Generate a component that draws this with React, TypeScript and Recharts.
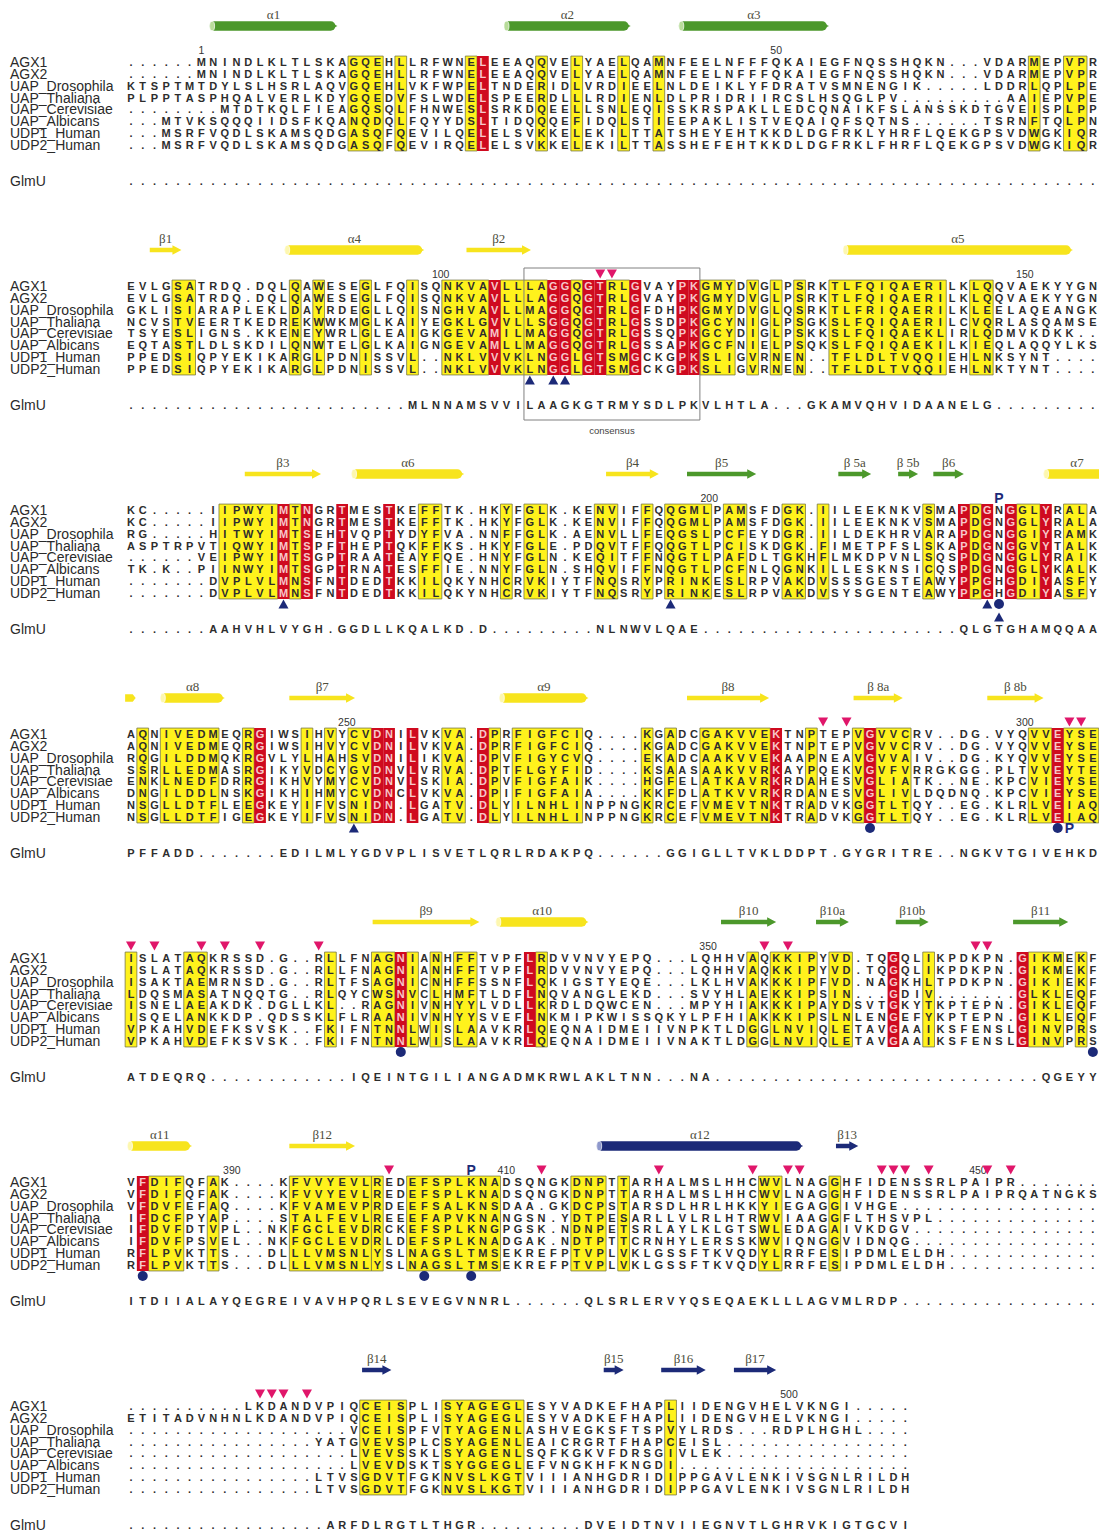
import React from 'react';
import { ScatterChart, Scatter, XAxis, YAxis, ReferenceArea } from 'recharts';

// layout of the alignment grid (px)
const COL_W = 11.73;
const COL0_X = 131;
const ROW_H = 11.86;
const ROW0_Y = 62;
const BLOCK_H = 224;
const NCOLS = 83;
const GLMU_ROW = 10;
const PAGE_W = 1099;
const PAGE_H = 1535;

const SANS = '"Liberation Sans", Arial, Helvetica, sans-serif';
const SERIF = '"Liberation Serif", "Times New Roman", serif';

const gap = (n: number) => '.'.repeat(n);

const names = [
  'AGX1',
  'AGX2',
  'UAP_Drosophila',
  'UAP_Thaliana',
  'UAP_Cerevisiae',
  'UAP_Albicans',
  'UDP1_Human',
  'UDP2_Human',
];

type SS = { from: number; to: number; kind: 'helix' | 'strand' | 'end'; tone: 'g' | 'y' | 'b'; label: string };
type MarkKind = 'down' | 'up' | 'dot' | 'upLow' | 'Ptop' | 'Pbot';
type Mark = { c: number; kind: MarkKind };
type Num = { c: number; text: string };

// ---------- block 1 ----------
const seq1 = [
  '......MNINDLKLTLSKAGQEHLLRFWNELEEAQQVELYAELQAMNFEELNFFFQKAIEGFNQSSHQKN...VDARMEPVPR',
  '......MNINDLKLTLSKAGQEHLLRFWNELEEAQQVELYAELQAMNFEELNFFFQKAIEGFNQSSHQKN...VDARMEPVPR',
  'KTSPTMTDYLSLHSRLAQVGQEHLVKFWPELTNDERIDLVRDIEELNLDEIKLYFDRATVSMNENGIK.....LDDRLQPLPE',
  'PLPPTASPHQALVERLKDYGQEDVFSLWDELSPEERDLLLRDIENLDLPRIDRIIRCSLHSQGLPV.........AAIEPVPE',
  '........MTDTKQLFIEAGQSQLFHNWESLSRKDQEELLSNLEQISSKRSPAKLLEDCQNAIKFSLANSSKDTGVEISPLPP',
  '...MTVKSQQQIIDSFKQANQDQLFQYYDSLTIDQQQEFIDQLSTIEEPAKLISTVEQAIQFSQTNS......TSRNFTQLPN',
  '...MSRFVQDLSKAMSQDGASQFQEVILQELELSVKKELEKILTTATSHEYEHTKKDLDGFRKLYHRFLQEKGPSVDWGKIQR',
  '...MSRFVQDLSKAMSQDGASQFQEVIRQELELSVKKELEKILTTASSHEFEHTKKDLDGFRKLFHRFLQEKGPSVDWGKIQR',
];
const glmu1 = gap(83);
const yellow1: [number, number][] = [[19, 21], [23, 23], [29, 29], [35, 35], [38, 38], [42, 42], [45, 45], [77, 77], [80, 81]];
const red1 = [30];
const ss1: SS[] = [
  { from: 6.7, to: 17.6, kind: 'helix', tone: 'g', label: 'α1' },
  { from: 31.8, to: 42.6, kind: 'helix', tone: 'g', label: 'α2' },
  { from: 46.7, to: 59.5, kind: 'helix', tone: 'g', label: 'α3' },
];
const nums1: Num[] = [{ c: 6, text: '1' }, { c: 55, text: '50' }];
const marks1: Mark[] = [];

// ---------- block 2 ----------
const seq2 = [
  'EVLGSATRDQ.DQLQAWESEGLFQISQNKVAVLLLAGGQGTRLGVAYPKGMYDVGLPSRKTLFQIQAERILKLQQVAEKYYGN',
  'EVLGSATRDQ.DQLQAWESEGLFQISQNKVAVLLLAGGQGTRLGVAYPKGMYDVGLPSRKTLFQIQAERILKLQQVAEKYYGN',
  'GKLISIARAPLEKLDAYRDEGLLQISNGHVAVLLMAGGQGTRLGFDHPKGMYDVGLQSRKTLFRIQAERILKLEELAQEANGK',
  'NCVSTVEERTKEDREKWWKMGLKAIYEGKLGVVLLSGGQGTRLGSSDPKGCYNIGLPSGKSLFQIQAERILCVQRLASQAMSE',
  'TSYESLIGNS.KKENEYWRLGLEAIGKGEVAMILMAGGQGTRLGSSQPKGCYDIGLPSKKSLFQIQAEKLIRLQDMVKDKK..',
  'EQTASTLDLSKDILQNWTELGLKAIGNGEVAMLLMAGGQGTRLGSSAPKGCFNIELPSQKSLFQIQAEKILKIEQLAQQYLKS',
  'PPEDSIQPYEKIKARGLPDNISSVL..NKLVVVKLNGGLGTSMGCKGPKSLIGVRNEN..TFLDLTVQQIEHLNKSYNT....',
  'PPEDSIQPYEKIKARGLPDNISSVL..NKLVVVKLNGGLGTSMGCKGPKSLIGVRNEN..TFLDLTVQQIEHLNKTYNT....',
];
const glmu2 = gap(24) + 'MLNNAMSVVILAAGKGTRMYSDLPKVLHTLA...GKAMVQHVIDAANELG' + gap(9);
const yellow2: [number, number][] = [
  [4, 5], [14, 14], [16, 16], [20, 20], [24, 24], [27, 30], [32, 35], [38, 38], [41, 42],
  [49, 51], [53, 53], [55, 55], [57, 57], [60, 69], [72, 73],
];
const red2 = [31, 36, 37, 39, 40, 43, 47, 48];
const ss2: SS[] = [
  { from: 1.6, to: 4.3, kind: 'strand', tone: 'y', label: 'β1' },
  { from: 13.1, to: 25, kind: 'helix', tone: 'y', label: 'α4' },
  { from: 28.6, to: 34.1, kind: 'strand', tone: 'y', label: 'β2' },
  { from: 60.7, to: 80.3, kind: 'helix', tone: 'y', label: 'α5' },
];
const nums2: Num[] = [{ c: 26.4, text: '100' }, { c: 76.2, text: '150' }];
const marks2: Mark[] = [
  { c: 40, kind: 'down' }, { c: 41, kind: 'down' },
  { c: 34, kind: 'up' }, { c: 36, kind: 'up' }, { c: 37, kind: 'up' },
];
const consensus2 = { from: 34, to: 48, label: 'consensus' };

// ---------- block 3 ----------
const seq3 = [
  'KC.....IIPWYIMTNGRTMESTKEFFTK.HKYFGLK.KENVIFFQQGMLPAMSFDGK.IILEEKNKVSMAPDGNGGLYRALA',
  'KC.....IIPWYIMTNGRTMESTKEFFTK.HKYFGLK.KENVIFFQQGMLPAMSFDGK.IILEEKNKVSMAPDGNGGLYRALA',
  'RG.....HITWYIMTSEHTVQPTYDYFVA.NNFFGLK.AENVLLFEQGSLPCFEYDGR.IILDEKHRVARAPDGNGGIYRAMK',
  'ASPTRPVTIQWYIMTSPFTHEPTQKFFKS.HKYFGLE.PDQVTFFQQGTLPCISKDGK.FIMETPFSLSKAPDGNGGVYTALK',
  '......VEIPWYIMTSGPTRAATEAYFQE.HNYFGLN.KEQITFFNQGTLPAFDLTGKHFLMKDPVNLSQSPDGNGGLYRAIK',
  'TK.K..PIINWYIMTSGPTRNATESFFIE.NNYFGLN.SHQVIFFNQGTLPCFNLQGNKILLESKNSICQSPDGNGGLYKALK',
  '.......DVPLVLMNSFNTDEDTKKILQKYNHCRVKIYTFNQSRYPRINKESLRPVAKDVSSSGESTEAWYPPGHGDIYASFY',
  '.......DVPLVLMNSFNTDEDTKKILQKYNHCRVKIYTFNQSRYPRINKESLRPVAKDVSYSGENTEAWYPPGHGDIYASFY',
];
const glmu3 = '.......AAHVHLVYGH.GGDLLKQALKD.D.........NLNWVLQAE' + gap(22) + 'QLGTGHAMQQAA';
const yellow3: [number, number][] = [
  [8, 12], [14, 14], [25, 26], [32, 32], [34, 35], [40, 41], [44, 44], [46, 49], [51, 52],
  [56, 57], [59, 59], [68, 68], [72, 72], [76, 77], [80, 81],
];
const red3 = [13, 15, 18, 22, 71, 73, 75, 78];
const ss3: SS[] = [
  { from: 9.7, to: 16.2, kind: 'strand', tone: 'y', label: 'β3' },
  { from: 18.8, to: 28.4, kind: 'helix', tone: 'y', label: 'α6' },
  { from: 40.5, to: 45, kind: 'strand', tone: 'y', label: 'β4' },
  { from: 47.4, to: 53.3, kind: 'strand', tone: 'g', label: 'β5' },
  { from: 60.3, to: 63.1, kind: 'strand', tone: 'g', label: 'β 5a' },
  { from: 65.4, to: 67.1, kind: 'strand', tone: 'g', label: 'β 5b' },
  { from: 68.4, to: 71, kind: 'strand', tone: 'g', label: 'β6' },
  { from: 77.8, to: 83.5, kind: 'helix', tone: 'y', label: 'α7' },
];
const nums3: Num[] = [{ c: 49.3, text: '200' }];
const marks3: Mark[] = [
  { c: 13, kind: 'up' }, { c: 46, kind: 'up' }, { c: 73, kind: 'up' },
  { c: 74, kind: 'dot' }, { c: 74, kind: 'upLow' }, { c: 74, kind: 'Ptop' },
];

// ---------- block 4 ----------
const seq4 = [
  'AQNIVEDMEQRGIWSIHVYCVDNILVKVA.DPRFIGFCIQ....KGADCGAKVVEKTNPTEPVGVVCRV..DG.VYQVVEYSE',
  'AQNIVEDMEQRGIWSIHVYCVDNILVKVA.DPRFIGFCIQ....KGADCGAKVVEKTNPTEPVGVVCRV..DG.VYQVVEYSE',
  'RQGILDDMQKRGVLYLHAHSVDNILIKVA.DPVFIGYCVQ....EKADCAAKVVEKAAPNEAVGVVAIV..DG.KYQVVEYSE',
  'SSRLLEDMASRGIKYVDCYGVDNVLVRVA.DPTFLGYFID....KSAASAAKVVRKAYPQEKVGVFVRRGKGG.PLTVVEYTE',
  'ENKLNEDFDRRGIKHVYMYCVDNVLSKIA.DPVFIGFAIK....HGFELATKAVRKRDAHESVGLIATK..NE.KPCVIEYSE',
  'DNGILDDLNSKGIKHIHMYCVDNCLVKVA.DPIFIGFAIA....KKFDLATKVVRKRDANESVGLIVLDQDNQ.KPCVIEYSE',
  'NSGLLDTFLEEGKEYIFVSNIDN.LGATV.DLYILNHLINPPNGKRCEFVMEVTNKTRADVKGGTLTQY..EG.KLRLVEIAQ',
  'NSGLLDTFIGEGKEYIFVSNIDN.LGATV.DLYILNHLINPPNGKRCEFVMEVTNKTRADVKGGTLTQY..EG.KLRLVEIAQ',
];
const glmu4 = 'PFFADD.......EDILMLYGDVPLISVETLQRLRDAKPQ......GGIGLLTVKLDDPT.GYGRITRE..NGKVTGIVEHKD';
const yellow4: [number, number][] = [
  [1, 1], [3, 7], [10, 10], [15, 15], [17, 17], [19, 20], [27, 28], [31, 31], [33, 38],
  [44, 44], [46, 46], [49, 54], [58, 58], [62, 62], [64, 66], [77, 78], [80, 82],
];
const red4 = [11, 21, 22, 24, 30, 55, 63, 79];
const ss4: SS[] = [
  { from: -0.5, to: 0.4, kind: 'end', tone: 'y', label: '' },
  { from: 2.5, to: 8, kind: 'helix', tone: 'y', label: 'α8' },
  { from: 13.5, to: 19.1, kind: 'strand', tone: 'y', label: 'β7' },
  { from: 31.4, to: 39, kind: 'helix', tone: 'y', label: 'α9' },
  { from: 47.4, to: 54.4, kind: 'strand', tone: 'y', label: 'β8' },
  { from: 61.6, to: 65.8, kind: 'strand', tone: 'y', label: 'β 8a' },
  { from: 73, to: 77.8, kind: 'strand', tone: 'y', label: 'β 8b' },
];
const nums4: Num[] = [{ c: 18.4, text: '250' }, { c: 76.2, text: '300' }];
const marks4: Mark[] = [
  { c: 59, kind: 'down' }, { c: 61, kind: 'down' }, { c: 80, kind: 'down' }, { c: 81, kind: 'down' },
  { c: 19, kind: 'up' }, { c: 63, kind: 'dot' }, { c: 79, kind: 'dot' }, { c: 80, kind: 'Pbot' },
];

// ---------- block 5 ----------
const seq5 = [
  'ISLATAQKRSSD.G..RLLFNAGNIANHFFTVPFLRDVVNVYEPQ...LQHHVAQKKIPYVD.TQGQLIKPDKPN.GIKMEKF',
  'ISLATAQKRSSD.G..RLLFNAGNIANHFFTVPFLRDVVNVYEPQ...LQHHVAQKKIPYVD.TQGQLIKPDKPN.GIKMEKF',
  'ISAKTAEMRNSD.G..RLTFSAGNICNHFFSSNFLQKIGSTYEQE...LKLHVAKKKIPFVD.NAGKHLTPDKPN.GIKIEKF',
  'LDQSMASATNQQTG..RLQYCWSNVCLHMFTLDFLNQVANGLEKD...SVYHLAEKKIPSIN...GDIV.......GLKLEQF',
  'ISNELAEAKDK.DGLLKL..RAGNIVNHYYLVDLLKRDLDQWCEN...MPYHIAKKKIPAYDSVTGKYTKPTEPN.GIKLEQF',
  'ISQELANKKDP.QDSSKLFLRAANIVNHYYSVEFLNKMIPKWISSQKYLPFHIAKKKIPSLNLENGEFYKPTEPN.GIKLEQF',
  'VPKAHVDEFKSVSK..FKIFNTNNLWISLAAVKRLQEQNAIDMEIIVNPKTLDGGLNVIQLETAVGAAIKSFENSLGINVPRS',
  'VPKAHVDEFKSVSK..FKIFNTNNLWISLAAVKRLQEQNAIDMEIIVNAKTLDGGLNVIQLETAVGAAIKSFENSLGINVPRS',
];
const glmu5 = 'ATDEQRQ' + gap(12) + 'IQEINTGILIANGADMKRWLAKLTNN...NA' + gap(28) + 'QGEYY';
const yellow5: [number, number][] = [
  [0, 0], [5, 6], [17, 17], [21, 22], [24, 24], [26, 26], [28, 29], [35, 35], [53, 53],
  [55, 58], [60, 61], [68, 68], [77, 79], [81, 81],
];
const red5 = [23, 34, 65, 76];
const ss5: SS[] = [
  { from: 20.6, to: 29.7, kind: 'strand', tone: 'y', label: 'β9' },
  { from: 31.1, to: 39, kind: 'helix', tone: 'y', label: 'α10' },
  { from: 50.3, to: 55, kind: 'strand', tone: 'g', label: 'β10' },
  { from: 58.4, to: 61.2, kind: 'strand', tone: 'g', label: 'β10a' },
  { from: 65.2, to: 68, kind: 'strand', tone: 'g', label: 'β10b' },
  { from: 75.2, to: 79.9, kind: 'strand', tone: 'g', label: 'β11' },
];
const nums5: Num[] = [{ c: 49.2, text: '350' }];
const marks5: Mark[] = [
  { c: 0, kind: 'down' }, { c: 2, kind: 'down' }, { c: 6, kind: 'down' }, { c: 8, kind: 'down' },
  { c: 11, kind: 'down' }, { c: 16, kind: 'down' }, { c: 54, kind: 'down' }, { c: 56, kind: 'down' },
  { c: 72, kind: 'down' }, { c: 73, kind: 'down' },
  { c: 23, kind: 'dot' }, { c: 82, kind: 'dot' },
];

// ---------- block 6 ----------
const seq6 = [
  'VFDIFQFAK....KFVVYEVLREDEFSPLKNADSQNGKDNPTTARHALMSLHHCWVLNAGGHFIDENSSRLPAIPR.......',
  'VFDIFQFAK....KFVVYEVLREDEFSPLKNADSQNGKDNPTTARHALMSLHHCWVLNAGGHFIDENSSRLPAIPRQATNGKS',
  'VFDVFEFAQ....KFVAMEVPRDEEFSALKNSDAA.GKDCPSTARSDLHRLHKKYIEGAGGIVHGE' + gap(17),
  'IFDCFPYAP....STALFEVLREEEFAPVKNANGSN.YDTPESARLLVLRLHTRWVIAAGGFLTHSVPL' + gap(14),
  'IFDVFDTVPL..NKFGCLEVDRCKEFSPLKNGPGSK.NDNPETSRLAYLKLGTSWLEDAGAIVKDGV' + gap(16),
  'IFDVFPSVEL..NKFGCLEVDRLDEFSPLKNADGAK.NDTPTTCRNHYLERSSKWVIQNGGVIDNQG' + gap(16),
  'RFLPVKTTS...DLLLVMSNLYSLNAGSLTMSEKREFPTVPLVKLGSSFTKVQDYLRRFESIPDMLELDH' + gap(13),
  'RFLPVKTTS...DLLLVMSNLYSLNAGSLTMSEKREFPTVPLVKLGSSFTKVQDYLRRFESIPDMLELDH' + gap(13),
];
const glmu6 = 'ITDIIALAYQEGREIVAVHPQRLSEVEGVNNRL......QLSRLERVYQSEQAEKLLLAGVMLRDP' + gap(17);
const yellow6: [number, number][] = [[2, 4], [7, 7], [14, 20], [21, 21], [24, 31], [38, 40], [42, 42], [54, 55], [60, 60]];
const red6 = [1];
const ss6: SS[] = [
  { from: -0.3, to: 5.2, kind: 'helix', tone: 'y', label: 'α11' },
  { from: 13.5, to: 19.1, kind: 'strand', tone: 'y', label: 'β12' },
  { from: 39.7, to: 57.3, kind: 'helix', tone: 'b', label: 'α12' },
  { from: 60.1, to: 62, kind: 'strand', tone: 'b', label: 'β13' },
];
const nums6: Num[] = [{ c: 8.6, text: '390' }, { c: 32, text: '410' }, { c: 72.2, text: '450' }];
const marks6: Mark[] = [
  { c: 22, kind: 'down' }, { c: 35, kind: 'down' }, { c: 45, kind: 'down' }, { c: 53, kind: 'down' },
  { c: 56, kind: 'down' }, { c: 57, kind: 'down' }, { c: 64, kind: 'down' }, { c: 65, kind: 'down' },
  { c: 66, kind: 'down' }, { c: 68, kind: 'down' }, { c: 73, kind: 'down' }, { c: 75, kind: 'down' },
  { c: 1, kind: 'dot' }, { c: 25, kind: 'dot' }, { c: 29, kind: 'dot' }, { c: 29, kind: 'Ptop' },
];

// ---------- block 7 ----------
const seq7 = [
  '..........LKDANDVPIQCEISPLISYAGEGLESYVADKEFHAPLIIDENGVHELVKNGI.....',
  'ETITADVNHNLKDANDVPIQCEISPLISYAGEGLESYVADKEFHAPLIIDENGVHELVKNGI.....',
  gap(19) + 'VCEISPFVTYAGENLASHVEGKSFTSPVYLRDS...RDPLHGHL....',
  gap(16) + 'YATGVEVSPLCSYAGENLEAICRGRTFHAPCEISL' + gap(16),
  gap(19) + 'LVEVSSKLSYAGENLSQFKGKVFDRSGIVLEK' + gap(16),
  gap(19) + 'LVEVDSKTSYGGEGLEFVNGKHFKNGDI' + gap(20),
  gap(16) + 'LTVSGDVTFGKNVSLKGTVIIIANHGDRIDIPPGAVLENKIVSGNLRILDH',
  gap(16) + 'LTVSGDVTFGKNVSLKGTVIIIANHGDRIDIPPGAVLENKIVSGNLRILDH',
];
const glmu7 = gap(17) + 'ARFDLRGTLTHGR' + gap(9) + 'DVEIDTNVIIEGNVTLGHRVKIGTGCVI';
const yellow7: [number, number][] = [[20, 23], [27, 33], [46, 46]];
const red7: number[] = [];
const ss7: SS[] = [
  { from: 19.7, to: 22.2, kind: 'strand', tone: 'b', label: 'β14' },
  { from: 40.3, to: 42, kind: 'strand', tone: 'b', label: 'β15' },
  { from: 45.2, to: 49, kind: 'strand', tone: 'b', label: 'β16' },
  { from: 51.4, to: 55, kind: 'strand', tone: 'b', label: 'β17' },
];
const nums7: Num[] = [{ c: 56.1, text: '500' }];
const marks7: Mark[] = [
  { c: 11, kind: 'down' }, { c: 12, kind: 'down' }, { c: 13, kind: 'down' }, { c: 15, kind: 'down' },
];

type Block = {
  seqs: string[];
  glmu: string;
  yellow: [number, number][];
  red: number[];
  ss: SS[];
  nums: Num[];
  marks: Mark[];
  box?: { from: number; to: number; label: string };
};

const blocks: Block[] = [
  { seqs: seq1, glmu: glmu1, yellow: yellow1, red: red1, ss: ss1, nums: nums1, marks: marks1 },
  { seqs: seq2, glmu: glmu2, yellow: yellow2, red: red2, ss: ss2, nums: nums2, marks: marks2, box: consensus2 },
  { seqs: seq3, glmu: glmu3, yellow: yellow3, red: red3, ss: ss3, nums: nums3, marks: marks3 },
  { seqs: seq4, glmu: glmu4, yellow: yellow4, red: red4, ss: ss4, nums: nums4, marks: marks4 },
  { seqs: seq5, glmu: glmu5, yellow: yellow5, red: red5, ss: ss5, nums: nums5, marks: marks5 },
  { seqs: seq6, glmu: glmu6, yellow: yellow6, red: red6, ss: ss6, nums: nums6, marks: marks6 },
  { seqs: seq7, glmu: glmu7, yellow: yellow7, red: red7, ss: ss7, nums: nums7, marks: marks7 },
];

// colours
const YELLOW = '#fff21c';
const BOX_STROKE = '#76764a';
const RED = '#cf0a1f';
const MAGENTA = '#e0166a';
const NAVY = '#1c2a78';
const TONE = { g: '#4c982b', y: '#f7e41d', b: '#1c2a78' };
const TONE_LIGHT = { g: '#b8dc9a', y: '#fdf7b0', b: '#8e98cc' };

// vertical positions (in row units) of the decorations around each block
const rowAt = (px: number) => (px - ROW0_Y) / ROW_H;
const SS_ROW = rowAt(26);
const SS_LABEL_ROW = rowAt(15);
const NUM_ROW = rowAt(50);
const MARK_ROW: Record<MarkKind, number> = {
  down: rowAt(50),
  Ptop: rowAt(50),
  up: rowAt(156),
  dot: rowAt(156),
  Pbot: rowAt(156),
  upLow: rowAt(169),
};

const NameTick = (p: any) => {
  const v = p.payload?.value;
  const label = v === GLMU_ROW ? 'GlmU' : names[v];
  return (
    <text x={10} y={p.y} dy={5} fontFamily={SANS} fontSize={14} fill="#2a2a2a" textAnchor="start">
      {label}
    </text>
  );
};

const ResidueShape = (p: any) => {
  const { cx, cy, payload } = p;
  if (cx == null || cy == null) return null;
  return (
    <text
      x={cx}
      y={cy + 4}
      textAnchor="middle"
      fontFamily={SANS}
      fontSize={11}
      fontWeight={700}
      fill={payload.onRed ? 'rgba(255,235,235,0.85)' : '#2d2d2d'}
    >
      {payload.ch}
    </text>
  );
};

const SSLabelShape = (p: any) => (
  <text x={p.cx} y={p.cy + 4} textAnchor="middle" fontFamily={SERIF} fontSize={13} fill="#4d4d3c">
    {p.payload.text}
  </text>
);

const NumShape = (p: any) => (
  <text x={p.cx} y={p.cy + 4} textAnchor="middle" fontFamily={SANS} fontSize={10.5} fill="#333">
    {p.payload.text}
  </text>
);

const MarkShape = (p: any) => {
  const { cx, cy, payload } = p;
  switch (payload.kind as MarkKind) {
    case 'down':
      return <polygon points={`${cx - 5},${cy - 4.5} ${cx + 5},${cy - 4.5} ${cx},${cy + 4.5}`} fill={MAGENTA} />;
    case 'up':
    case 'upLow':
      return <polygon points={`${cx},${cy - 4.5} ${cx + 5},${cy + 4.5} ${cx - 5},${cy + 4.5}`} fill={NAVY} />;
    case 'dot':
      return <circle cx={cx} cy={cy} r={5} fill={NAVY} />;
    default:
      return (
        <text x={cx} y={cy + 5} textAnchor="middle" fontFamily={SANS} fontWeight={700} fontSize={14} fill={NAVY}>
          P
        </text>
      );
  }
};

const TextShape = (p: any) => (
  <text x={p.cx} y={p.cy + 3} textAnchor="middle" fontFamily={SANS} fontSize={9.5} fill="#444">
    {p.payload.text}
  </text>
);

function SSGlyph(props: any) {
  const { x, y, width, height, kind, tone } = props;
  if (x == null || width == null) return null;
  const col = TONE[tone as 'g' | 'y' | 'b'];
  const light = TONE_LIGHT[tone as 'g' | 'y' | 'b'];
  const cy = y + height / 2;
  if (kind === 'strand') {
    const head = Math.min(9, width * 0.55);
    const sh = height * 0.5;
    const xb = x + width - head;
    return (
      <polygon
        points={`${x},${cy - sh / 2} ${xb},${cy - sh / 2} ${xb},${y} ${x + width},${cy} ${xb},${y + height} ${xb},${cy + sh / 2} ${x},${cy + sh / 2}`}
        fill={col}
      />
    );
  }
  if (kind === 'end') {
    return <path d={`M${x},${y + 1} H${x + width - 3} L${x + width},${cy} L${x + width - 3},${y + height - 1} H${x} Z`} fill={col} />;
  }
  const r = height / 2;
  return (
    <g>
      <rect x={x} y={y} width={width - 2} height={height} rx={r} fill={col} />
      <path d={`M${x + width - r - 2},${y + 1.5} L${x + width},${cy} L${x + width - r - 2},${y + height - 1.5} Z`} fill={col} />
      <ellipse cx={x + 2.5} cy={cy} rx={2.5} ry={r} fill={light} stroke="#ffffff" strokeWidth={0.7} />
    </g>
  );
}

function AlignmentBlock({ block, height }: { block: Block; height: number }) {
  const redSet = new Set(block.red);
  const residues: { c: number; r: number; ch: string; onRed: boolean }[] = [];
  block.seqs.forEach((s, r) => {
    for (let c = 0; c < s.length; c++) residues.push({ c, r, ch: s[c], onRed: redSet.has(c) });
  });
  for (let c = 0; c < block.glmu.length; c++) {
    residues.push({ c, r: GLMU_ROW, ch: block.glmu[c], onRed: false });
  }
  const ssLabels = block.ss
    .filter((s) => s.label)
    .map((s) => ({ c: (s.from + s.to) / 2, r: SS_LABEL_ROW, text: s.label }));
  const numbers = block.nums.map((n) => ({ c: n.c, r: NUM_ROW, text: n.text }));
  const marks = block.marks.map((m) => ({ c: m.c, r: MARK_ROW[m.kind], kind: m.kind }));
  const boxLabel = block.box ? [{ c: (block.box.from + block.box.to) / 2, r: rowAt(207), text: block.box.label }] : [];

  const plotLeft = COL0_X - COL_W / 2;
  const plotRight = plotLeft + NCOLS * COL_W;

  return (
    <ScatterChart
      width={PAGE_W}
      height={height}
      margin={{ top: 0, right: PAGE_W - plotRight, bottom: 0, left: 0 }}
    >
      <XAxis type="number" dataKey="c" domain={[-0.5, NCOLS - 0.5]} hide allowDataOverflow />
      <YAxis
        type="number"
        dataKey="r"
        domain={[rowAt(0), rowAt(height)]}
        reversed
        allowDataOverflow
        width={plotLeft}
        ticks={[0, 1, 2, 3, 4, 5, 6, 7, GLMU_ROW]}
        interval={0}
        axisLine={false}
        tickLine={false}
        tick={NameTick}
      />
      {block.yellow.map(([a, b], i) => (
        <ReferenceArea
          key={`y${i}`}
          x1={a - 0.5}
          x2={b + 0.5}
          y1={-0.5}
          y2={7.5}
          fill={YELLOW}
          fillOpacity={1}
          stroke={BOX_STROKE}
          strokeWidth={0.8}
          ifOverflow="visible"
        />
      ))}
      {block.red.map((c, i) => (
        <ReferenceArea
          key={`r${i}`}
          x1={c - 0.5}
          x2={c + 0.5}
          y1={-0.5}
          y2={7.5}
          fill={RED}
          fillOpacity={1}
          stroke="none"
          ifOverflow="visible"
        />
      ))}
      {block.ss.map((s, i) => (
        <ReferenceArea
          key={`s${i}`}
          x1={s.from}
          x2={s.to}
          y1={SS_ROW - 0.4}
          y2={SS_ROW + 0.4}
          ifOverflow="visible"
          shape={(p: any) => <SSGlyph {...p} kind={s.kind} tone={s.tone} />}
        />
      ))}
      {block.box && (
        <ReferenceArea
          x1={block.box.from - 0.5}
          x2={block.box.to + 0.5}
          y1={rowAt(44)}
          y2={rowAt(196)}
          fill="none"
          fillOpacity={0}
          stroke="#808080"
          strokeWidth={1}
          ifOverflow="visible"
        />
      )}
      <Scatter data={residues} shape={ResidueShape} isAnimationActive={false} />
      <Scatter data={ssLabels} shape={SSLabelShape} isAnimationActive={false} />
      <Scatter data={numbers} shape={NumShape} isAnimationActive={false} />
      <Scatter data={marks} shape={MarkShape} isAnimationActive={false} />
      <Scatter data={boxLabel} shape={TextShape} isAnimationActive={false} />
    </ScatterChart>
  );
}

export default function App() {
  return (
    <div style={{ width: PAGE_W, height: PAGE_H, overflow: 'hidden', background: '#ffffff' }}>
      <style>{'body{margin:0;background:#ffffff;}'}</style>
      {blocks.map((b, i) => (
        <AlignmentBlock
          key={i}
          block={b}
          height={i === blocks.length - 1 ? PAGE_H - BLOCK_H * i : BLOCK_H}
        />
      ))}
    </div>
  );
}
